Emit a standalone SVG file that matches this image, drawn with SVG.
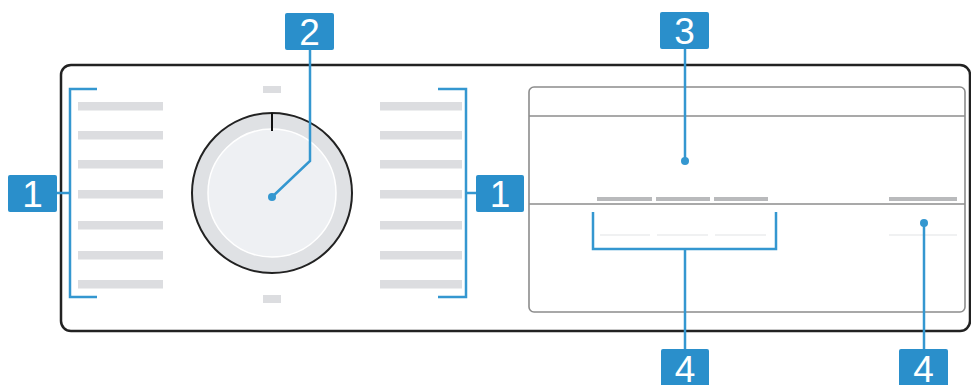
<svg xmlns="http://www.w3.org/2000/svg" width="971" height="385" viewBox="0 0 971 385">
<style>
.bar{fill:#dcdde0}
.lbl{fill:#2a8fcb}
.lt{fill:#fff;font-family:"Liberation Sans",Arial,sans-serif;font-size:37px;text-anchor:middle}
.con{fill:none;stroke:#3497d0;stroke-width:2.5}
.dot{fill:#3497d0}
.dbar{fill:#b9babc}
.fline{stroke:#e2e3e5;stroke-width:1.2}
</style>
<rect width="971" height="385" fill="#fff"/>
<g id="panel">
<rect x="61" y="65" width="909" height="266" rx="10" fill="#fff" stroke="#222" stroke-width="2.5"/>
</g>
<g id="programmes-left">
<rect class="bar" x="78" y="102" width="85" height="8.5"/>
<rect class="bar" x="78" y="131" width="85" height="8.5"/>
<rect class="bar" x="78" y="160" width="85" height="8.5"/>
<rect class="bar" x="78" y="190" width="85" height="8.5"/>
<rect class="bar" x="78" y="221" width="85" height="8.5"/>
<rect class="bar" x="78" y="251" width="85" height="8.5"/>
<rect class="bar" x="78" y="280" width="85" height="8.5"/>
</g>
<g id="programmes-right">
<rect class="bar" x="380" y="102" width="82" height="8.5"/>
<rect class="bar" x="380" y="131" width="82" height="8.5"/>
<rect class="bar" x="380" y="160" width="82" height="8.5"/>
<rect class="bar" x="380" y="190" width="82" height="8.5"/>
<rect class="bar" x="380" y="221" width="82" height="8.5"/>
<rect class="bar" x="380" y="251" width="82" height="8.5"/>
<rect class="bar" x="380" y="280" width="82" height="8.5"/>
</g>
<g id="dial">
<rect class="bar" x="263" y="86" width="18" height="7"/>
<rect class="bar" x="263" y="295" width="18" height="8"/>
<circle cx="272" cy="193" r="80" fill="#dfe1e4" stroke="#222" stroke-width="2"/>
<circle cx="272" cy="193" r="64" fill="#eef0f3" stroke="#fff" stroke-width="1.5"/>
<line x1="272" y1="113" x2="272" y2="131" stroke="#111" stroke-width="2"/>
</g>
<g id="display">
<rect x="529" y="87" width="436" height="225" rx="5" fill="#fff" stroke="#8c8c8c" stroke-width="1.6"/>
<line x1="529" y1="116" x2="965" y2="116" stroke="#8c8c8c" stroke-width="1.6"/>
<line x1="529" y1="204" x2="965" y2="204" stroke="#8c8c8c" stroke-width="1.6"/>
<rect class="dbar" x="597" y="197" width="55" height="4"/>
<rect class="dbar" x="656" y="197" width="54" height="4"/>
<rect class="dbar" x="714" y="197" width="54" height="4"/>
<rect class="dbar" x="889" y="197" width="68" height="4"/>
<line class="fline" x1="600" y1="235" x2="650" y2="235"/>
<line class="fline" x1="657" y1="235" x2="708" y2="235"/>
<line class="fline" x1="715" y1="235" x2="766" y2="235"/>
<line class="fline" x1="889" y1="235" x2="957" y2="235"/>
</g>
<g id="connectors">
<path class="con" d="M97,89 H70 V297 H97"/>
<line class="con" x1="57" y1="193" x2="70" y2="193"/>
<path class="con" d="M438,89 H466 V297 H438"/>
<line class="con" x1="466" y1="193" x2="477" y2="193"/>
<path class="con" d="M310,50 V161 L272,197"/>
<circle class="dot" cx="272" cy="197" r="4"/>
<line class="con" x1="685" y1="49" x2="685" y2="161"/>
<circle class="dot" cx="685" cy="161" r="4"/>
<path class="con" d="M593,212 V249 H776 V212"/>
<line class="con" x1="685" y1="249" x2="685" y2="350"/>
<line class="con" x1="924" y1="223" x2="924" y2="350"/>
<circle class="dot" cx="924" cy="223" r="4"/>
</g>
<g id="label-1-left"><rect class="lbl" x="8" y="175" width="49" height="37" rx="2"/><text class="lt" x="32.5" y="207">1</text></g>
<g id="label-1-right"><rect class="lbl" x="476" y="175" width="48" height="37" rx="2"/><text class="lt" x="500" y="207">1</text></g>
<g id="label-2"><rect class="lbl" x="285" y="13" width="49" height="37" rx="2"/><text class="lt" x="309.5" y="45">2</text></g>
<g id="label-3"><rect class="lbl" x="660" y="12" width="49" height="37" rx="2"/><text class="lt" x="684.5" y="44">3</text></g>
<g id="label-4-left"><rect class="lbl" x="661" y="349" width="48" height="40" rx="2"/><text class="lt" x="685" y="382">4</text></g>
<g id="label-4-right"><rect class="lbl" x="899" y="349" width="49" height="40" rx="2"/><text class="lt" x="923.5" y="382">4</text></g>
</svg>
